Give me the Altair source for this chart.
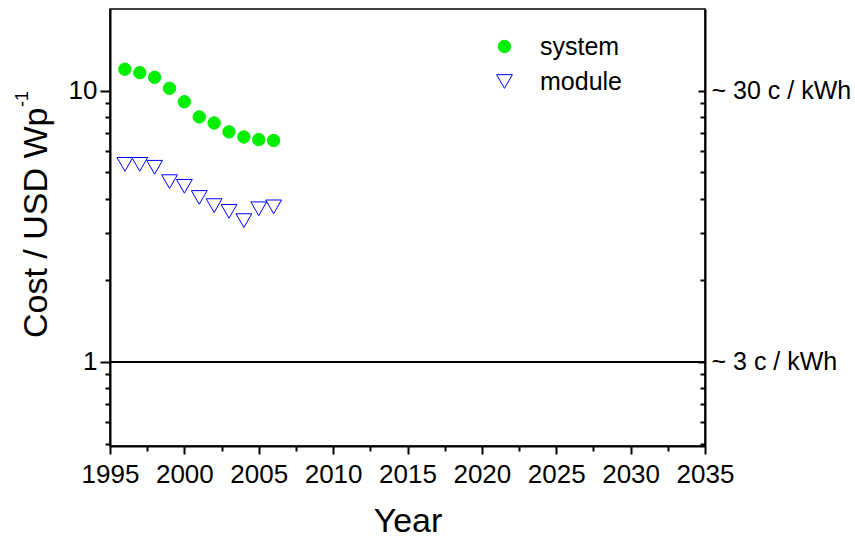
import altair as alt
import pandas as pd

FONT = "Liberation Sans"

# PV cost per peak watt, 1996-2006
years = [1996, 1997, 1998, 1999, 2000, 2001, 2002, 2003, 2004, 2005, 2006]
system_cost = [12.0, 11.65, 11.2, 10.2, 9.1, 8.0, 7.6, 7.05, 6.75, 6.6, 6.55]
module_cost = [5.35, 5.35, 5.22, 4.62, 4.44, 4.04, 3.77, 3.59, 3.32, 3.67, 3.73]

series_names = ["system", "module"]
series_shapes = ["circle", "triangle-down"]
series_fill = ["#00ee00", "transparent"]
series_stroke = ["#00ee00", "#0000ff"]
series_size = [154, 250]

x_major = [1995, 2000, 2005, 2010, 2015, 2020, 2025, 2030, 2035]
x_minor = [1997.5, 2002.5, 2007.5, 2012.5, 2017.5, 2022.5, 2027.5, 2032.5]
y_major = [1, 10]
y_minor = [0.5, 0.6, 0.7, 0.8, 0.9, 2, 3, 4, 5, 6, 7, 8, 9]
kwh_labels = ["~ 3 c / kWh", "~ 30 c / kWh"]   # electricity cost at y_major
reference_level = 1

y_title = "Cost / USD Wp"
y_title_sup = "-1"

W, H = 595, 437

df = pd.DataFrame({
    "year": years * 2,
    "cost": system_cost + module_cost,
    "series": [series_names[0]] * len(years) + [series_names[1]] * len(years),
})

x_scale = alt.Scale(domain=[1995, 2035], nice=False, zero=False)
y_scale = alt.Scale(type="log", domain=[0.49, 20], nice=False)

legend = alt.Legend(
    title=None, orient="none", legendX=382, legendY=25, padding=0,
    labelFont=FONT, labelFontSize=25, labelColor="black", labelOffset=23,
    rowPadding=9, symbolStrokeWidth=1, symbolSize=140,
)

points = alt.Chart(df).mark_point(filled=False, strokeWidth=1, opacity=1).encode(
    x=alt.X("year:Q", scale=x_scale, axis=alt.Axis(
        orient="bottom", values=x_major, format="d", tickSize=8, tickWidth=2,
        domainWidth=2, labelFontSize=26, labelPadding=7, labelFlush=False,
        labelOverlap=False, title="Year", titleFontSize=34,
        titleBaseline="alphabetic", titleY=85)),
    y=alt.Y("cost:Q", scale=y_scale, axis=alt.Axis(
        orient="left", values=y_major, format="~g", tickSize=10, tickWidth=2,
        domainWidth=2, labelFontSize=26, labelPadding=3, labelFlush=False,
        labelOverlap=False, title=y_title, titleFontSize=34, titleAngle=270,
        titleAlign="right", titleBaseline="alphabetic", titleX=-64, titleY=98)),
    color=alt.Color("series:N", scale=alt.Scale(domain=series_names, range=series_stroke), legend=legend),
    shape=alt.Shape("series:N", scale=alt.Scale(domain=series_names, range=series_shapes), legend=legend),
    fill=alt.Fill("series:N", scale=alt.Scale(domain=series_names, range=series_fill), legend=legend),
    size=alt.Size("series:N", scale=alt.Scale(domain=series_names, range=series_size), legend=None),
)

# minor ticks on the left and bottom axes
minor = alt.Chart(df).mark_point(opacity=0).encode(
    x=alt.X("year:Q", scale=x_scale, axis=alt.Axis(
        orient="bottom", values=x_minor, tickSize=5, tickWidth=2,
        labels=False, domain=False, title=None)),
    y=alt.Y("cost:Q", scale=y_scale, axis=alt.Axis(
        orient="left", values=y_minor, tickSize=5, tickWidth=2,
        labels=False, domain=False, title=None)),
)

label_expr = " : ".join(
    f"datum.value == {v} ? '{t}'" for v, t in zip(y_major, kwh_labels)
) + " : ''"

# horizontal line at 1 USD/Wp, carrying the right-hand kWh axis
ref_rule = alt.Chart(df).mark_rule(color="black", strokeWidth=1).encode(
    y=alt.Y(datum=reference_level, type="quantitative", scale=y_scale, axis=alt.Axis(
        orient="right", values=y_major, ticks=False, domainWidth=2,
        labelExpr=label_expr, labelFontSize=25, labelPadding=6,
        labelFlush=False, labelOverlap=False, title=None)),
)

# inward ticks along the right edge
inner_major = alt.Chart(df).mark_point(opacity=0).encode(
    x=alt.X("year:Q", scale=x_scale, axis=None),
    y=alt.Y("cost:Q", scale=y_scale, axis=alt.Axis(
        orient="left", offset=-W, values=y_major, tickSize=7, tickWidth=2,
        labels=False, domain=False, title=None)),
)
inner_minor = alt.Chart(df).mark_point(opacity=0).encode(
    x=alt.X("year:Q", scale=x_scale, axis=None),
    y=alt.Y("cost:Q", scale=y_scale, axis=alt.Axis(
        orient="left", offset=-W, values=y_minor, tickSize=5, tickWidth=2,
        labels=False, domain=False, title=None)),
)

sup = alt.Chart(pd.DataFrame({"t": [y_title_sup]})).mark_text(
    angle=270, align="left", baseline="alphabetic", fontSize=18, font=FONT, color="black"
).encode(text="t:N", x=alt.value(-82), y=alt.value(98))

chart = alt.layer(points, minor, ref_rule, inner_major, inner_minor, sup).resolve_axis(
    x="independent", y="independent"
).properties(
    width=W, height=H,
    autosize=alt.AutoSizeParams(type="none"),
    padding={"left": 110, "top": 9, "right": 150, "bottom": 92},
    background="white",
).configure_view(
    stroke="black", strokeWidth=1.5
).configure_axis(
    grid=False, domainColor="black", tickColor="black", labelColor="black",
    titleColor="black", labelFont=FONT, titleFont=FONT, titleFontWeight="normal",
)

chart.save("out.html", embed_options={"renderer": "svg", "actions": False})
